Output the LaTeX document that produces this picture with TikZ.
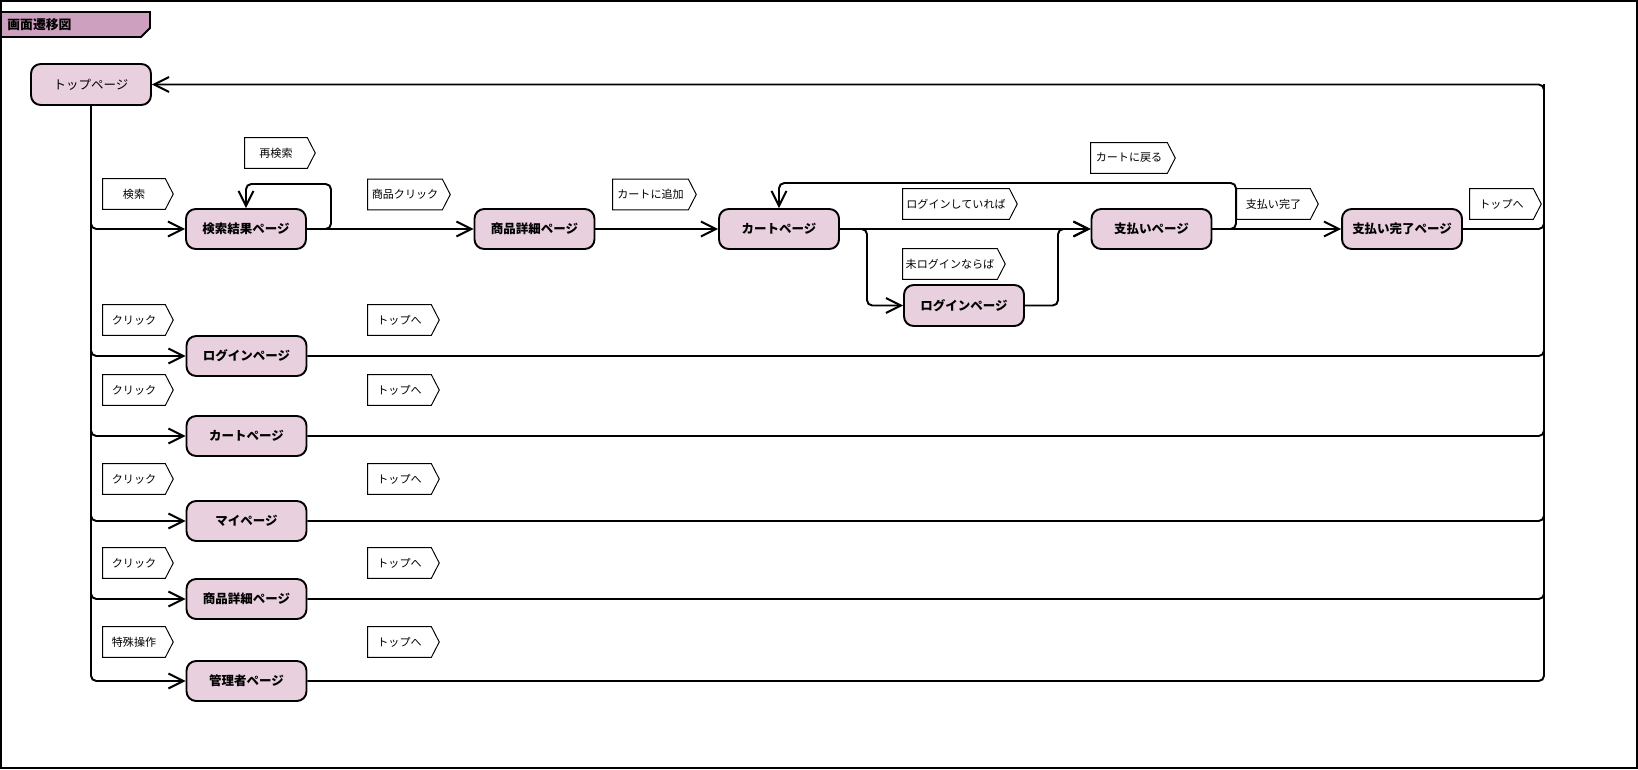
\documentclass[tikz,border=0pt]{standalone}
\usepackage{fontspec}
\setmainfont{Noto Sans CJK JP}
\usetikzlibrary{arrows.meta,calc}
\definecolor{nodefill}{RGB}{232,208,222}
\definecolor{tabfill}{RGB}{204,160,190}
\newcommand\mylab[5]{%
  \node[labtext, minimum width=#4] (#1) at (#2,#3) {#5};
  \draw[labline] (#1.north west) -- (#1.north east) -- ([xshift=4.5pt]#1.east) -- (#1.south east) -- (#1.south west) -- cycle;}
\begin{document}
\begin{tikzpicture}[x=0.02cm,y=-0.02cm,
  page/.style={draw, line width=1.1pt, fill=nodefill, rounded corners=5.5pt,
    minimum width=2.4cm, minimum height=0.8cm, inner sep=0pt,
    font=\fontsize{7.1pt}{8pt}\selectfont\bfseries},
  labtext/.style={inner xsep=0.5pt, inner ysep=0pt, minimum height=0.6cm,
    font=\fontsize{6.3pt}{7pt}\selectfont},
  labline/.style={line width=0.55pt},
  conn/.style={line width=1.1pt, rounded corners=3pt},
  >={Straight Barb[length=8.5pt,width=8.5pt]}]
\useasboundingbox (0,0) rectangle (1638,770);
% frame and title tab
\draw[line width=1.1pt] (1,1) rectangle (1637,768);
\draw[line width=1.1pt, fill=tabfill] (1,12) -- (150,12) -- (150,28) -- (141,37) -- (1,37) -- cycle;
\node[anchor=west, inner sep=0pt, font=\fontsize{7.3pt}{8pt}\selectfont\bfseries] (title) at (7,25) {画面遷移図};
% nodes
\node[page, font=\fontsize{7.1pt}{8pt}\selectfont, minimum height=0.82cm] (top) at (91,84.5) {トップページ};
\node[page] (res) at (246,229) {検索結果ページ};
\node[page] (det) at (534.5,229) {商品詳細ページ};
\node[page] (cart) at (779,229) {カートページ};
\node[page] (pay) at (1151.5,229) {支払いページ};
\node[page, minimum height=0.82cm] (login2) at (964,305.5) {ログインページ};
\node[page] (done) at (1402,229) {支払い完了ページ};
\node[page] (login) at (246.5,356) {ログインページ};
\node[page] (cartb) at (246.5,436) {カートページ};
\node[page] (my) at (246.5,521) {マイページ};
\node[page] (detb) at (246.5,599) {商品詳細ページ};
\node[page] (admin) at (246.5,681) {管理者ページ};
% labels
\mylab{lkensaku}{134}{194}{1.24cm}{検索}
\mylab{lsai}{276}{153}{1.24cm}{再検索}
\mylab{lclick}{405}{194.5}{1.48cm}{商品クリック}
\mylab{ladd}{650.5}{194.5}{1.5cm}{カートに追加}
\mylab{lback}{1129}{158}{1.52cm}{カートに戻る}
\mylab{lin}{956}{204}{2.12cm}{ログインしていれば}
\mylab{lnotin}{950}{264}{1.88cm}{未ログインならば}
\mylab{lpaid}{1273.5}{204}{1.46cm}{支払い完了}
\mylab{ltop}{1501.5}{204}{1.26cm}{トップへ}
\mylab{lc1}{134}{320}{1.24cm}{クリック}
\mylab{lt1}{399.5}{320}{1.26cm}{トップへ}
\mylab{lc2}{134}{390}{1.24cm}{クリック}
\mylab{lt2}{399.5}{390}{1.26cm}{トップへ}
\mylab{lc3}{134}{479}{1.24cm}{クリック}
\mylab{lt3}{399.5}{479}{1.26cm}{トップへ}
\mylab{lc4}{134}{563}{1.24cm}{クリック}
\mylab{lt4}{399.5}{563}{1.26cm}{トップへ}
\mylab{lc5}{134}{642}{1.24cm}{特殊操作}
\mylab{lt5}{399.5}{642}{1.26cm}{トップへ}
% helper coordinates
\coordinate (l1) at (331,184);
\coordinate (b1) at (867,229);
\coordinate (j1) at (1058,229);
\coordinate (k1) at (1236,183);
\coordinate (r1) at (1544,84.5);
% connectors
\draw[conn,->] (top.south) |- (res.west);
\draw[conn,->] (top.south) |- (login.west);
\draw[conn,->] (top.south) |- (cartb.west);
\draw[conn,->] (top.south) |- (my.west);
\draw[conn,->] (top.south) |- (detb.west);
\draw[conn,->] (top.south) |- (admin.west);
\draw[conn,->] (res.east) -| (l1) -| (res.north);
\draw[conn,->] (res.east) -- (det.west);
\draw[conn,->] (det.east) -- (cart.west);
\draw[conn,->] (cart.east) -- (pay.west);
\draw[conn,->] (cart.east) -- (b1) |- (login2.west);
\draw[conn,->] (login2.east) -| (j1) -- (pay.west);
\draw[conn,->] (pay.east) -| (k1) -| (cart.north);
\draw[conn,->] (pay.east) -- (done.west);
\draw[conn,->] (done.east) -| (r1) -- (top.east);
\draw[conn] (login.east) -| (r1);
\draw[conn] (cartb.east) -| (r1);
\draw[conn] (my.east) -| (r1);
\draw[conn] (detb.east) -| (r1);
\draw[conn] (admin.east) -| (r1);
\end{tikzpicture}
\end{document}
